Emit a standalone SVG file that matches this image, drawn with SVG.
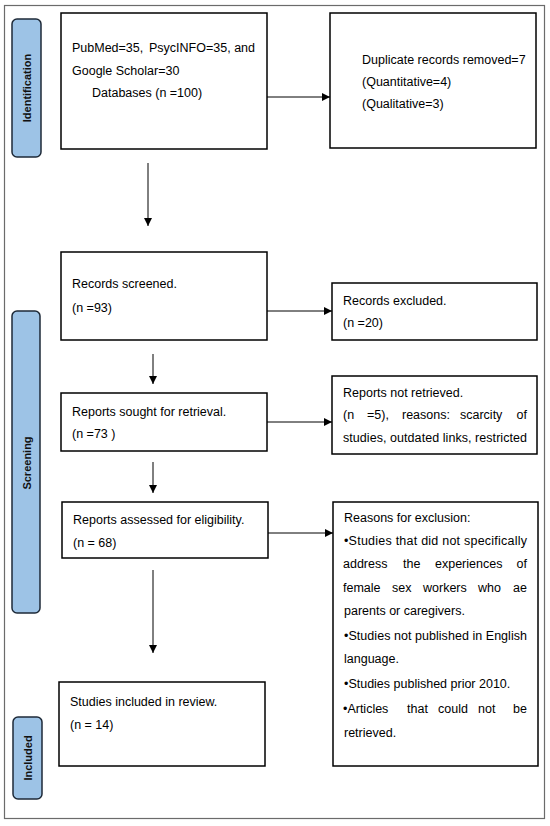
<svg xmlns="http://www.w3.org/2000/svg" width="550" height="826" viewBox="0 0 550 826">
<defs>
<style>
.box{fill:#fff;stroke:#000;stroke-width:1.5}
.lab{fill:#9dc3e6;stroke:#1e2a38;stroke-width:1.5}
.t{font-family:"Liberation Sans",Arial,sans-serif;font-size:12.5px;fill:#000}
.lt{font-family:"Liberation Sans",Arial,sans-serif;font-size:11px;font-weight:bold;fill:#111;text-anchor:middle}
.c{stroke:#000;stroke-width:1;fill:none;marker-end:url(#ah)}
</style>
<marker id="ah" viewBox="0 0 10 10" refX="10" refY="5" markerWidth="8" markerHeight="8" markerUnits="userSpaceOnUse" orient="auto">
<path d="M0,0 L10,5 L0,10 Z" fill="#000"/>
</marker>
</defs>
<rect width="550" height="826" fill="#fff"/>
<rect x="4.5" y="5.5" width="540" height="813" fill="none" stroke="#6b6b6b" stroke-width="1.2"/>

<g id="label-identification">
<rect class="lab" x="12" y="19" width="29" height="138" rx="5"/>
<text class="lt" transform="translate(31,88) rotate(-90)">Identification</text>
</g>
<g id="label-screening">
<rect class="lab" x="12" y="311" width="28" height="302" rx="5"/>
<text class="lt" transform="translate(31,463) rotate(-90)">Screening</text>
</g>
<g id="label-included">
<rect class="lab" x="13" y="717" width="29" height="82" rx="5"/>
<text class="lt" transform="translate(32,758) rotate(-90)">Included</text>
</g>

<g id="node-databases">
<rect class="box" x="61" y="13" width="206" height="136"/>
<text class="t" y="52"><tspan x="72">PubMed=35,</tspan><tspan x="149">PsycINFO=35,</tspan><tspan x="255" text-anchor="end">and</tspan></text>
<text class="t" x="72" y="75">Google Scholar=30</text>
<text class="t" x="92" y="97">Databases (n =100)</text>
</g>
<g id="node-duplicates">
<rect class="box" x="330" y="13" width="206" height="135"/>
<text class="t" x="362" y="64">Duplicate records removed=7</text>
<text class="t" x="362" y="86">(Quantitative=4)</text>
<text class="t" x="362" y="108">(Qualitative=3)</text>
</g>
<g id="node-screened">
<rect class="box" x="61" y="252" width="206" height="88"/>
<text class="t" x="72" y="288">Records screened.</text>
<text class="t" x="72" y="312">(n =93)</text>
</g>
<g id="node-excluded">
<rect class="box" x="332" y="283" width="205" height="57"/>
<text class="t" x="343" y="305">Records excluded.</text>
<text class="t" x="343" y="327">(n =20)</text>
</g>
<g id="node-sought">
<rect class="box" x="61" y="393" width="206" height="58"/>
<text class="t" x="72" y="416">Reports sought for retrieval.</text>
<text class="t" x="72" y="438">(n =73 )</text>
</g>
<g id="node-notretrieved">
<rect class="box" x="332" y="376" width="205" height="78"/>
<text class="t" x="343" y="397">Reports not retrieved.</text>
<text class="t" y="419"><tspan x="343">(n</tspan><tspan x="367">=5),</tspan><tspan x="402">reasons:</tspan><tspan x="460">scarcity</tspan><tspan x="527" text-anchor="end">of</tspan></text>
<text class="t" x="343" y="442" textLength="184" lengthAdjust="spacing">studies, outdated links, restricted</text>
</g>
<g id="node-assessed">
<rect class="box" x="62" y="502" width="206" height="56"/>
<text class="t" x="73" y="524">Reports assessed for eligibility.</text>
<text class="t" x="73" y="547">(n = 68)</text>
</g>
<g id="node-reasons">
<rect class="box" x="333" y="502" width="205" height="264"/>
<text class="t" x="344" y="522">Reasons for exclusion:</text>
<text class="t" x="344" y="545" textLength="183" lengthAdjust="spacing">•Studies that did not specifically</text>
<text class="t" y="568"><tspan x="343">address</tspan><tspan x="403">the</tspan><tspan x="435">experiences</tspan><tspan x="527" text-anchor="end">of</tspan></text>
<text class="t" y="592"><tspan x="343">female</tspan><tspan x="392">sex</tspan><tspan x="423">workers</tspan><tspan x="478">who</tspan><tspan x="527" text-anchor="end">ae</tspan></text>
<text class="t" x="344" y="615">parents or caregivers.</text>
<text class="t" x="344" y="640" textLength="183" lengthAdjust="spacing">•Studies not published in English</text>
<text class="t" x="344" y="663">language.</text>
<text class="t" x="344" y="688">•Studies published prior 2010.</text>
<text class="t" y="713"><tspan x="343">•Articles</tspan><tspan x="407">that</tspan><tspan x="438">could</tspan><tspan x="478">not</tspan><tspan x="527" text-anchor="end">be</tspan></text>
<text class="t" x="344" y="737">retrieved.</text>
</g>
<g id="node-included">
<rect class="box" x="59" y="682" width="206" height="84"/>
<text class="t" x="70" y="706">Studies included in review.</text>
<text class="t" x="70" y="729">(n = 14)</text>
</g>

<g id="connectors">
<line class="c" x1="267" y1="97" x2="330" y2="97"/>
<line class="c" x1="148" y1="163" x2="148" y2="226"/>
<line class="c" x1="267" y1="311" x2="332" y2="311"/>
<line class="c" x1="153" y1="354" x2="153" y2="384"/>
<line class="c" x1="267" y1="422" x2="332" y2="422"/>
<line class="c" x1="153" y1="462" x2="153" y2="493"/>
<line class="c" x1="268" y1="533" x2="333" y2="533"/>
<line class="c" x1="153" y1="570" x2="153" y2="653"/>
</g>
</svg>
